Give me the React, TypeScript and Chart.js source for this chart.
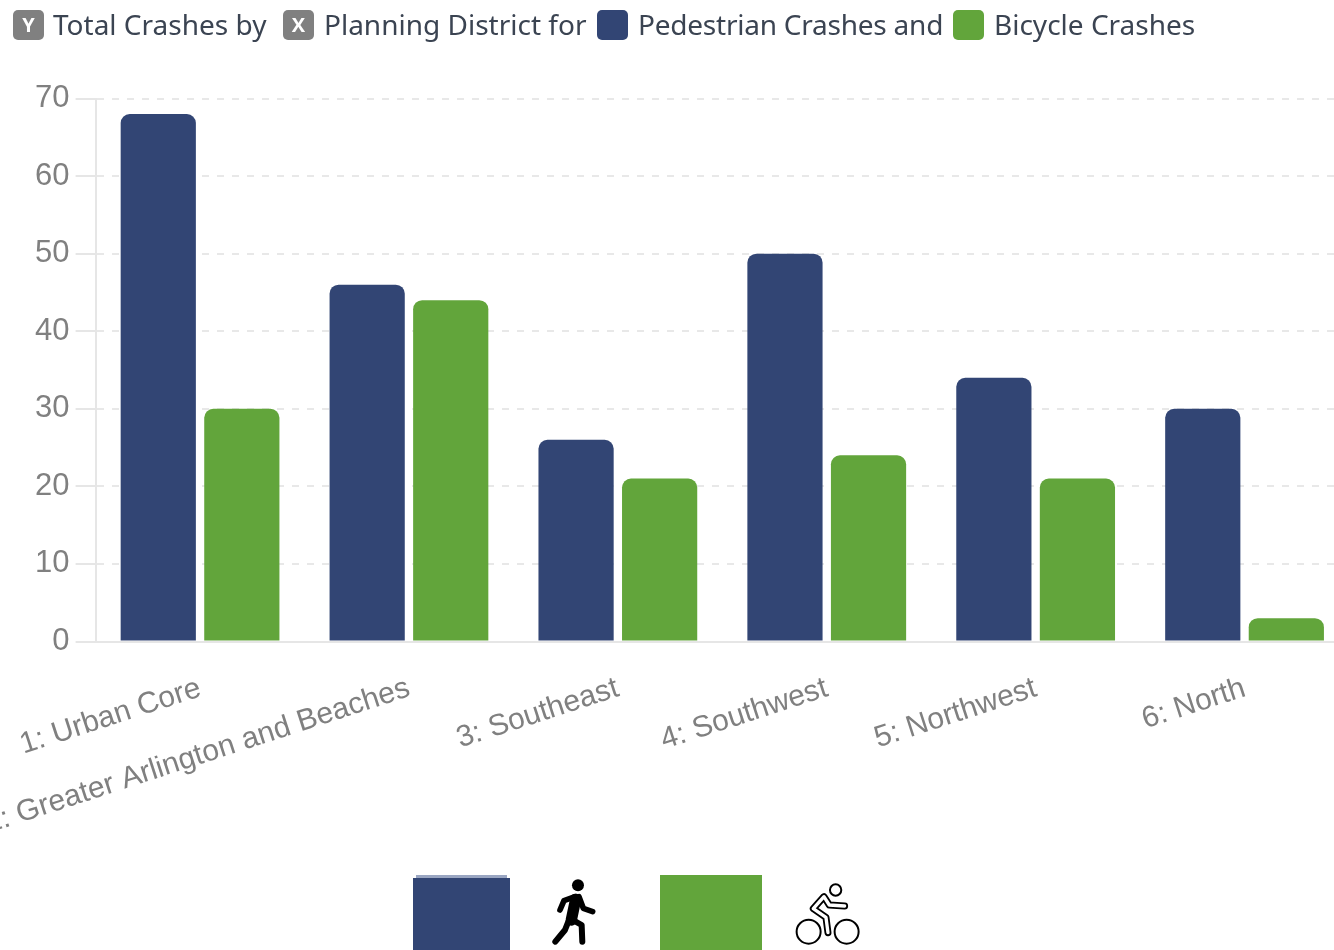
import React, { useEffect, useRef } from "react";
import { Chart, registerables } from "chart.js";

Chart.register(...registerables);

const categories = ["1: Urban Core", "2: Greater Arlington and Beaches", "3: Southeast", "4: Southwest", "5: Northwest", "6: North"];
const pedestrian = [68, 46, 26, 50, 34, 30];
const bicycle = [30, 44, 21, 24, 21, 3];
const BLUE = "#324574";
const GREEN = "#62a53b";

const headerFont = '"Noto Sans", sans-serif';

function Badge({ x, color, text }: { x: number; color: string; text?: string }) {
  return (
    <div style={{ position: "absolute", left: x, top: 10, width: 31, height: 30, borderRadius: 5, background: color, color: "#fff", fontFamily: '"Open Sans", sans-serif', fontWeight: 700, fontSize: 20, lineHeight: "29px", textAlign: "center" }}>
      {text}
    </div>
  );
}

function Label({ x, text, spacing = 0 }: { x: number; text: string; spacing?: number }) {
  return (
    <div style={{ position: "absolute", left: x, top: 5, fontFamily: headerFont, fontSize: 28, lineHeight: "38px", letterSpacing: spacing, color: "#3b4452", whiteSpace: "nowrap" }}>
      {text}
    </div>
  );
}

export default function App() {
  const ref = useRef<HTMLCanvasElement | null>(null);
  useEffect(() => {
    const chart = new Chart(ref.current!, {
      type: "bar",
      data: {
        labels: categories,
        datasets: [
          { label: "Pedestrian Crashes", data: pedestrian, backgroundColor: BLUE, borderRadius: { topLeft: 9, topRight: 9, bottomLeft: 0, bottomRight: 0 }, borderSkipped: false },
          { label: "Bicycle Crashes", data: bicycle, backgroundColor: GREEN, borderRadius: { topLeft: 9, topRight: 9, bottomLeft: 0, bottomRight: 0 }, borderSkipped: false },
        ],
      },
      options: {
        animation: false,
        responsive: false,
        layout: { padding: { top: 98.5, left: 0, right: 0, bottom: 0 } },
        plugins: { legend: { display: false }, title: { display: false }, tooltip: { enabled: false } },
        scales: {
          x: {
            afterFit: (s: any) => { s.height = 308.5; s.paddingLeft = 0; s.paddingRight = 0; },
            grid: { drawOnChartArea: false, drawTicks: false },
            border: { color: "#e6e6e6", width: 2 },
            ticks: { autoSkip: false, minRotation: 18, maxRotation: 18, padding: 29, color: "#808080", font: { family: '"Liberation Sans", Arial, sans-serif', size: 30 } },
          },
          y: {
            min: 0,
            max: 70,
            afterFit: (s: any) => { s.width = 95.6; },
            grid: { color: "#e8e8e8", lineWidth: 2, tickLength: 20, tickColor: "#e6e6e6", tickBorderDash: [] },
            border: { color: "#e6e6e6", width: 2, dash: [7, 8] },
            ticks: { stepSize: 10, padding: 6, color: "#808080", font: { family: '"Liberation Sans", Arial, sans-serif', size: 31 } },
          },
        },
      },
    } as any);
    return () => chart.destroy();
  }, []);

  return (
    <div style={{ position: "absolute", left: 0, top: 0, width: 1334, height: 950, overflow: "hidden", background: "#fff" }}>
      <canvas ref={ref} width={1349} height={950} style={{ position: "absolute", left: 0, top: 0, display: "block" }} />
      <Badge x={13} color="#808080" text="Y" />
      <Label x={53} text="Total Crashes by" />
      <Badge x={283} color="#808080" text="X" />
      <Label x={324} text="Planning District for" />
      <Badge x={597} color={BLUE} />
      <Label x={638} text="Pedestrian Crashes and" spacing={-0.23} />
      <Badge x={953} color={GREEN} />
      <Label x={994} text="Bicycle Crashes" />

      <div style={{ position: "absolute", left: 416, top: 875, width: 91, height: 3, background: "#9aa6c2" }} />
      <div style={{ position: "absolute", left: 413, top: 878, width: 97, height: 72, background: BLUE }} />
      <div style={{ position: "absolute", left: 660, top: 875, width: 102, height: 75, background: GREEN }} />

      <svg width={1334} height={950} style={{ position: "absolute", left: 0, top: 0 }}>
        <g transform="translate(400 860) scale(0.3333)" fill="none" strokeLinecap="round" strokeLinejoin="round">
          <g stroke="#000">
            <circle cx={534} cy={76} r={18} fill="#000" stroke="none" />
            <path d="M527 118 L514 180" strokeWidth={34} />
            <path d="M525 110 L492 122 L480 150" strokeWidth={17} />
            <path d="M537 110 L550 145 L578 155" strokeWidth={17} />
            <path d="M515 178 L545 195 L547 245" strokeWidth={18} />
            <path d="M505 185 L495 210 L466 245" strokeWidth={18} />
          </g>
          <g stroke="#000" strokeWidth={6}>
            <circle cx={1226} cy={215} r={36} />
            <circle cx={1340} cy={215} r={36} />
            <circle cx={1307} cy={90} r={17} />
            <path d="M1334 138 L1288 135 L1272 110 L1240 146 L1278 172 L1284 218" strokeWidth={21} />
            <path d="M1334 138 L1288 135 L1272 110 L1240 146 L1278 172 L1284 218" stroke="#fff" strokeWidth={10} />
          </g>
        </g>
      </svg>
    </div>
  );
}
